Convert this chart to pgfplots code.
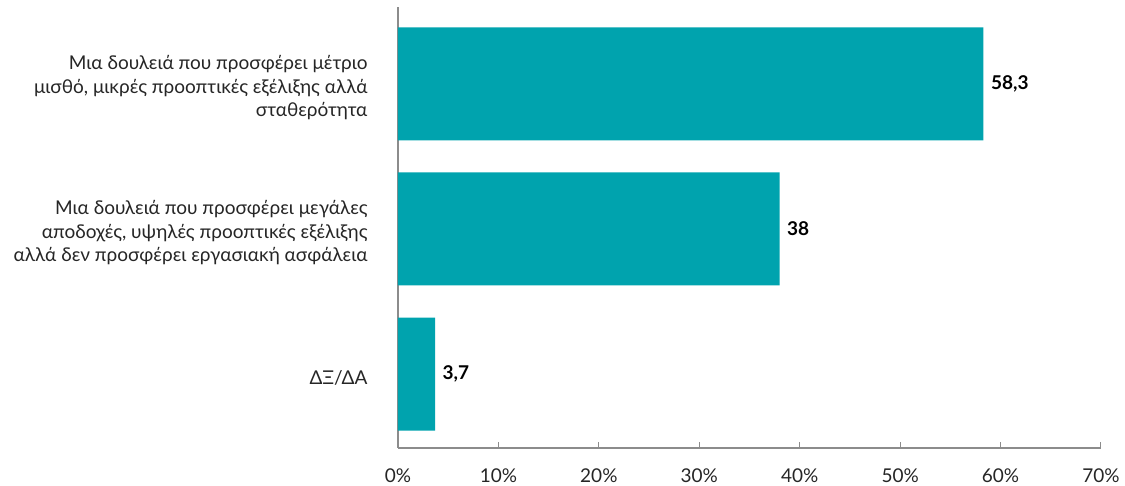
\documentclass[border=0pt]{standalone}
\usepackage{pgfplots}
\pgfplotsset{compat=1.18}
\usepackage{fontspec}
\setmainfont{Lato}
\definecolor{barteal}{HTML}{00A3AE}
\definecolor{axgray}{HTML}{8C8C8C}
\begin{document}
\begin{tikzpicture}
\path[use as bounding box] (-398pt,-38pt) rectangle ++(1125pt,486pt);
\begin{axis}[
  at={(0pt,0pt)}, anchor=south west,
  scale only axis, width=703pt, height=441pt,
  xbar, bar width=113pt,
  xmin=0, xmax=70, ymin=-0.51, ymax=2.53,
  axis lines*=left,
  axis line style={axgray, line width=1.3pt},
  xtick={0,10,...,70},
  xticklabel={\pgfmathprintnumber{\tick}\%},
  tick align=inside, major tick length=6pt,
  x tick style={axgray, line width=1pt},
  ytick={0,1,2},
  yticklabels={{ΔΞ/ΔΑ},{Μια δουλειά που προσφέρει μεγάλες\\αποδοχές, υψηλές προοπτικές εξέλιξης\\αλλά δεν προσφέρει εργασιακή ασφάλεια},{Μια δουλειά που προσφέρει μέτριο\\μισθό, μικρές προοπτικές εξέλιξης αλλά\\σταθερότητα}},
  y tick style={draw=none},
  tick label style={font=\fontsize{19}{23.5}\selectfont, text=black!85},
  yticklabel style={align=right, xshift=-27pt, yshift=-4pt},
  xticklabel style={yshift=-17pt},
  /pgf/number format/assume math mode=true,
  point meta=x,
  nodes near coords={\pgfmathprintnumber[use comma]{\pgfplotspointmeta}},
  nodes near coords style={font=\fontsize{19}{22}\selectfont\bfseries, anchor=west, xshift=4pt, text=black},
]
\addplot[fill=barteal, draw=none] coordinates {(3.7,0) (38,1) (58.3,2)};
\end{axis}
\end{tikzpicture}
\end{document}
